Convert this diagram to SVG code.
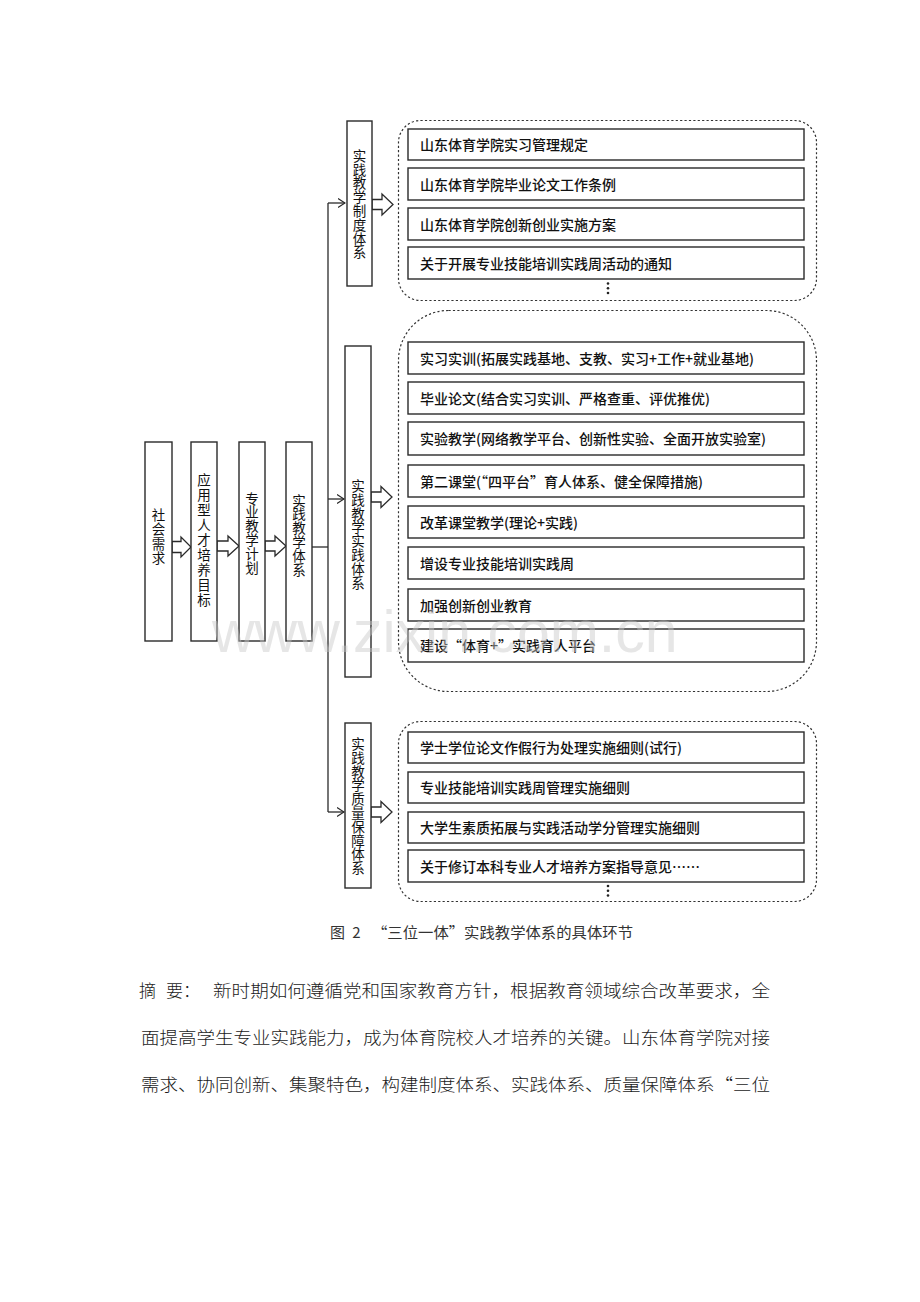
<svg xmlns="http://www.w3.org/2000/svg" width="920" height="1302" viewBox="0 0 920 1302">
<defs>
<style>
.box{fill:#fff;stroke:#2a2a2a;stroke-width:1.4}
.dash{fill:none;stroke:#333;stroke-width:1.2;stroke-dasharray:2.2 2.2}
.hol{fill:#fff;stroke:#2a2a2a;stroke-width:1.3;stroke-linejoin:miter}
.ln{fill:none;stroke:#2a2a2a;stroke-width:1.3}
.t{font-family:"Noto Sans CJK SC","Noto Sans",sans-serif;font-size:14px;fill:#111;font-weight:500}
.v{font-family:"Noto Sans CJK SC","Noto Sans",sans-serif;font-size:13.5px;fill:#111;text-anchor:middle}
.cap{font-family:"Noto Sans CJK SC","Noto Sans",sans-serif;font-size:15px;fill:#333}
.p{font-family:"Noto Sans CJK SC","Noto Sans",sans-serif;font-size:17px;fill:#1a1a1a;font-weight:300}
.dot{fill:#222}
</style>
<marker id="chev" viewBox="0 0 8 10" refX="7.5" refY="5" markerWidth="8" markerHeight="10" markerUnits="userSpaceOnUse" orient="auto">
<path d="M0.5,0.5 L7.5,5 L0.5,9.5" fill="none" stroke="#2a2a2a" stroke-width="1.2"/>
</marker>
</defs>
<rect width="920" height="1302" fill="#fff"/>

<!-- connectors -->
<g id="connectors">
<polygon class="hol" points="172,541.5 181,541.5 181,537 191,547 181,557 181,552.5 172,552.5"/>
<polygon class="hol" points="217,541 228,541 228,536 239,546 228,556 228,551 217,551"/>
<polygon class="hol" points="265,541 275,541 275,536 286,546 275,556 275,551 265,551"/>
<path class="ln" d="M312,547 H328"/>
<path class="ln" d="M328,203 V812"/>
<path class="ln" d="M328,203 H345" marker-end="url(#chev)"/>
<path class="ln" d="M328,499 H344" marker-end="url(#chev)"/>
<path class="ln" d="M328,812 H344" marker-end="url(#chev)"/>
<polygon class="hol" points="372,199.5 382,199.5 382,194 393,204.5 382,215 382,209.5 372,209.5"/>
<polygon class="hol" points="371,492 381,492 381,486.5 392,497 381,507.5 381,502 371,502"/>
<polygon class="hol" points="371,807 381,807 381,801.5 392,812 381,822.5 381,817 371,817"/>
</g>

<!-- left column -->
<g id="n_shehui">
<rect class="box" x="145" y="442" width="27" height="199"/>
<text class="v"><tspan x="158.5" y="519.5">社</tspan><tspan x="158.5" y="534">会</tspan><tspan x="158.5" y="548.5">需</tspan><tspan x="158.5" y="563">求</tspan></text>
</g>
<g id="n_mubiao">
<rect class="box" x="191" y="442" width="26" height="199"/>
<text class="v"><tspan x="204" y="485">应</tspan><tspan x="204" y="500">用</tspan><tspan x="204" y="515">型</tspan><tspan x="204" y="530">人</tspan><tspan x="204" y="545">才</tspan><tspan x="204" y="560">培</tspan><tspan x="204" y="575">养</tspan><tspan x="204" y="590">目</tspan><tspan x="204" y="605">标</tspan></text>
</g>
<g id="n_jihua">
<rect class="box" x="239" y="442" width="26" height="199"/>
<text class="v"><tspan x="252" y="503.5">专</tspan><tspan x="252" y="517.3">业</tspan><tspan x="252" y="531.1">教</tspan><tspan x="252" y="544.9">学</tspan><tspan x="252" y="558.7">计</tspan><tspan x="252" y="572.5">划</tspan></text>
</g>
<g id="n_tixi">
<rect class="box" x="286" y="442" width="26" height="199"/>
<text class="v"><tspan x="299" y="505.5">实</tspan><tspan x="299" y="519.3">践</tspan><tspan x="299" y="533.1">教</tspan><tspan x="299" y="546.9">学</tspan><tspan x="299" y="560.7">体</tspan><tspan x="299" y="574.5">系</tspan></text>
</g>

<!-- top group -->
<g id="n_zhidu">
<rect class="box" x="347" y="121" width="25" height="165"/>
<text class="v"><tspan x="359.5" y="160.7">实</tspan><tspan x="359.5" y="174.5">践</tspan><tspan x="359.5" y="188.3">教</tspan><tspan x="359.5" y="202.1">学</tspan><tspan x="359.5" y="215.9">制</tspan><tspan x="359.5" y="229.7">度</tspan><tspan x="359.5" y="243.5">体</tspan><tspan x="359.5" y="257.3">系</tspan></text>
</g>
<g id="g_zhidu">
<rect class="dash" x="398.5" y="120.5" width="418" height="180" rx="22" ry="22"/>
<rect class="box" x="408" y="129" width="396" height="31"/>
<text class="t" x="420" y="150">山东体育学院实习管理规定</text>
<rect class="box" x="408" y="168" width="396" height="32"/>
<text class="t" x="420" y="189.5">山东体育学院毕业论文工作条例</text>
<rect class="box" x="408" y="208" width="396" height="32"/>
<text class="t" x="420" y="229.5">山东体育学院创新创业实施方案</text>
<rect class="box" x="408" y="247" width="396" height="32"/>
<text class="t" x="420" y="268.5">关于开展专业技能培训实践周活动的通知</text>
<circle class="dot" cx="608" cy="283.5" r="1.3"/>
<circle class="dot" cx="608" cy="288.3" r="1.3"/>
<circle class="dot" cx="608" cy="293" r="1.3"/>
</g>

<!-- middle group -->
<g id="n_shijian">
<rect class="box" x="345" y="346" width="26" height="331"/>
<text class="v"><tspan x="358" y="491">实</tspan><tspan x="358" y="504.8">践</tspan><tspan x="358" y="518.6">教</tspan><tspan x="358" y="532.4">学</tspan><tspan x="358" y="546.2">实</tspan><tspan x="358" y="560">践</tspan><tspan x="358" y="573.8">体</tspan><tspan x="358" y="587.6">系</tspan></text>
</g>
<g id="g_shijian">
<rect class="dash" x="398.5" y="310.5" width="418" height="381" rx="50" ry="50"/>
<rect class="box" x="408" y="342" width="396" height="32"/>
<text class="t" x="420" y="363.5">实习实训(拓展实践基地、支教、实习+工作+就业基地)</text>
<rect class="box" x="408" y="382" width="396" height="32"/>
<text class="t" x="420" y="403.5">毕业论文(结合实习实训、严格查重、评优推优)</text>
<rect class="box" x="408" y="422" width="396" height="33"/>
<text class="t" x="420" y="444">实验教学(网络教学平台、创新性实验、全面开放实验室)</text>
<rect class="box" x="408" y="465" width="396" height="32"/>
<text class="t" x="420" y="486.5">第二课堂(“四平台”育人体系、健全保障措施)</text>
<rect class="box" x="408" y="506" width="396" height="32"/>
<text class="t" x="420" y="527.5">改革课堂教学(理论+实践)</text>
<rect class="box" x="408" y="547" width="396" height="32"/>
<text class="t" x="420" y="568.5">增设专业技能培训实践周</text>
<rect class="box" x="408" y="589" width="396" height="32"/>
<text class="t" x="420" y="610.5">加强创新创业教育</text>
<rect class="box" x="408" y="629" width="396" height="33"/>
<text class="t" x="420" y="651">建设“体育+”实践育人平台</text>
</g>

<!-- bottom group -->
<g id="n_zhiliang">
<rect class="box" x="345" y="723" width="26" height="165"/>
<text class="v"><tspan x="358" y="748.9">实</tspan><tspan x="358" y="762.7">践</tspan><tspan x="358" y="776.5">教</tspan><tspan x="358" y="790.3">学</tspan><tspan x="358" y="804.1">质</tspan><tspan x="358" y="817.9">量</tspan><tspan x="358" y="831.7">保</tspan><tspan x="358" y="845.5">障</tspan><tspan x="358" y="859.3">体</tspan><tspan x="358" y="873.1">系</tspan></text>
</g>
<g id="g_zhiliang">
<rect class="dash" x="398.5" y="721.5" width="418" height="180" rx="22" ry="22"/>
<rect class="box" x="408" y="732" width="396" height="31"/>
<text class="t" x="420" y="753">学士学位论文作假行为处理实施细则(试行)</text>
<rect class="box" x="408" y="772" width="396" height="31"/>
<text class="t" x="420" y="793">专业技能培训实践周管理实施细则</text>
<rect class="box" x="408" y="812" width="396" height="31"/>
<text class="t" x="420" y="833">大学生素质拓展与实践活动学分管理实施细则</text>
<rect class="box" x="408" y="850" width="396" height="32"/>
<text class="t" x="420" y="871.5">关于修订本科专业人才培养方案指导意见……</text>
<circle class="dot" cx="608" cy="886" r="1.3"/>
<circle class="dot" cx="608" cy="890.8" r="1.3"/>
<circle class="dot" cx="608" cy="895.5" r="1.3"/>
</g>

<!-- watermark -->
<text x="212" y="652" font-family="'Liberation Sans',Arial,sans-serif" font-size="59" fill="#c8c8c8" fill-opacity="0.45">www.zixin.com.cn</text>

<!-- caption -->
<text class="cap" x="330" y="937.5" style="letter-spacing:2px">图 2</text>
<text class="cap" x="372" y="937.5" textLength="261" lengthAdjust="spacingAndGlyphs">“三位一体”实践教学体系的具体环节</text>

<!-- paragraph -->
<text class="p" x="139" y="997">摘</text>
<text class="p" x="166" y="997">要：</text>
<text class="p" x="213" y="997" textLength="557" lengthAdjust="spacingAndGlyphs">新时期如何遵循党和国家教育方针，根据教育领域综合改革要求，全</text>
<text class="p" x="141" y="1044" textLength="629" lengthAdjust="spacingAndGlyphs">面提高学生专业实践能力，成为体育院校人才培养的关键。山东体育学院对接</text>
<text class="p" x="141" y="1091" textLength="629" lengthAdjust="spacingAndGlyphs">需求、协同创新、集聚特色，构建制度体系、实践体系、质量保障体系“三位</text>
</svg>
